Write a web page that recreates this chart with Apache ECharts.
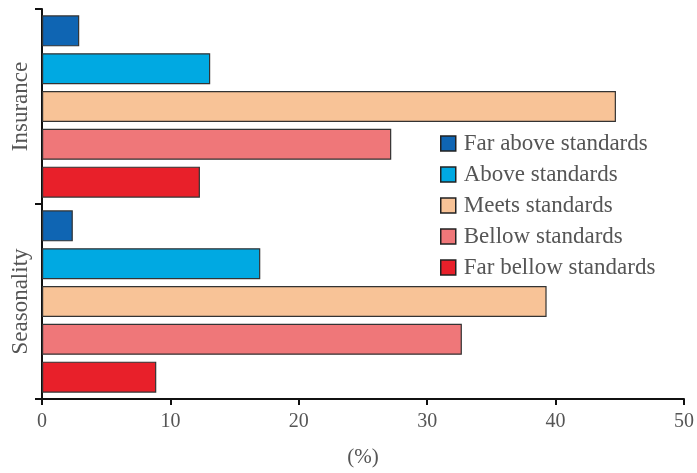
<!DOCTYPE html>
<html><head><meta charset="utf-8">
<script src="https://cdn.jsdelivr.net/npm/echarts@6/dist/echarts.min.js"></script>
<style>html,body{margin:0;padding:0;background:#fff}#c{width:697px;height:473px}</style>
</head><body><div id="c"></div>
<script>
const categories = ['Insurance', 'Seasonality'];
const seriesNames = ['Far above standards', 'Above standards', 'Meets standards', 'Bellow standards', 'Far bellow standards'];
const farAbove = [2.9, 2.4];
const above = [13.1, 17.0];
const meets = [44.7, 39.3];
const bellow = [27.2, 32.7];
const farBellow = [12.3, 8.9];
const xTicks = [0, 10, 20, 30, 40, 50];

const colors = ['#0F65B3', '#00A9E2', '#F8C397', '#EF7779', '#E8202A'];
const values = [farAbove, above, meets, bellow, farBellow];
const font = '"Liberation Serif", "Times New Roman", serif';

const chart = echarts.init(document.getElementById('c'));
chart.setOption({
  animation: false,
  grid: {left: 42, right: 11, top: 9, bottom: 71, containLabel: false},
  legend: {
    orient: 'vertical', left: 436, top: 130,
    itemWidth: 15, itemHeight: 15, itemGap: 8,
    backgroundColor: '#fff',
    padding: [2, 4, 2, 4],
    textStyle: {fontFamily: font, fontSize: 23, color: '#555', padding: [0, 0, 0, 3]},
    data: seriesNames.map((n, i) => ({name: n, icon: 'rect', itemStyle: {color: colors[i], borderColor: '#222', borderWidth: 1.5}}))
  },
  xAxis: {
    type: 'value', min: xTicks[0], max: xTicks[xTicks.length - 1], interval: 10,
    name: '(%)', nameLocation: 'middle', nameGap: 48,
    nameTextStyle: {fontFamily: font, fontSize: 21, color: '#555'},
    axisLine: {show: true, lineStyle: {color: '#111', width: 2}},
    axisTick: {show: true, length: 6, lineStyle: {color: '#111', width: 2}},
    axisLabel: {fontFamily: font, fontSize: 20, color: '#555', margin: 13},
    splitLine: {show: false}
  },
  yAxis: {
    type: 'category', data: categories, inverse: true,
    axisLine: {show: true, lineStyle: {color: '#111', width: 2}},
    axisTick: {show: true, length: 7, lineStyle: {color: '#111', width: 2}},
    axisLabel: {rotate: 90, fontFamily: font, fontSize: 23, color: '#555', margin: 10}
  },
  series: seriesNames.map((n, i) => ({
    name: n, type: 'bar', data: values[i],
    barWidth: 31, barGap: '22%',
    itemStyle: {color: colors[i], borderColor: '#333', borderWidth: 1.2}
  }))
});
</script></body></html>
